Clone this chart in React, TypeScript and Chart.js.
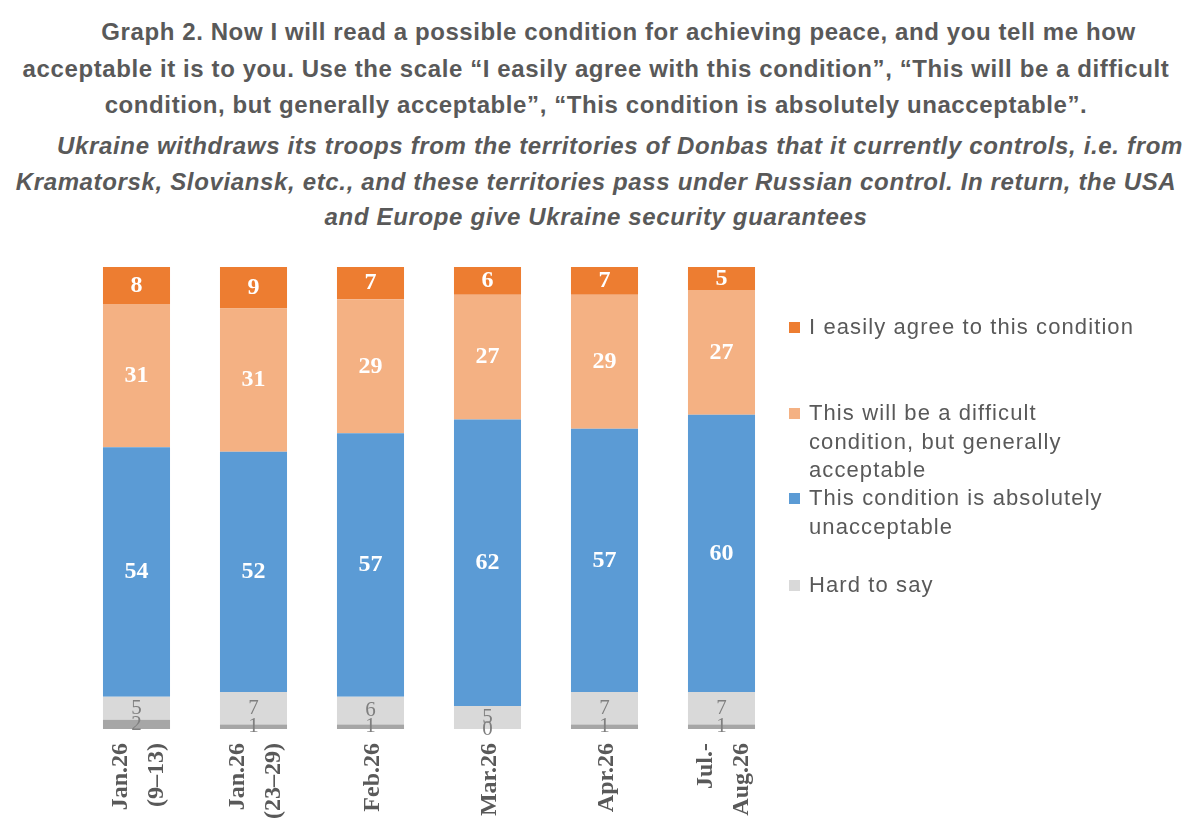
import React, { useEffect, useRef } from 'react';
import { Chart, registerables } from 'chart.js';
import type { Plugin } from 'chart.js';

Chart.register(...registerables);

const categories = [
  ['Jan.26', '(9–13)'],
  ['Jan.26', '(23–29)'],
  ['Feb.26'],
  ['Mar.26'],
  ['Apr.26'],
  ['Jul.-', 'Aug.26'],
];

const easilyAgree = [8, 9, 7, 6, 7, 5];
const difficultButAcceptable = [31, 31, 29, 27, 29, 27];
const absolutelyUnacceptable = [54, 52, 57, 62, 57, 60];
const hardToSay = [5, 7, 6, 5, 7, 7];
const noAnswer = [2, 1, 1, 0, 1, 1];

const legendItems = [
  { label: 'I easily agree to this condition', color: '#ED7D31' },
  { label: 'This will be a difficult\ncondition, but generally\nacceptable', color: '#F4B183' },
  { label: 'This condition is absolutely\nunacceptable', color: '#5B9BD5' },
  { label: 'Hard to say', color: '#D9D9D9' },
];
const legendTops = [313, 399, 484, 571];

const titleLines = [
  'Graph 2. Now I will read a possible condition for achieving peace, and you tell me how',
  'acceptable it is to you. Use the scale “I easily agree with this condition”, “This will be a difficult',
  'condition, but generally acceptable”, “This condition is absolutely unacceptable”.',
];
const subtitleLines = [
  'Ukraine withdraws its troops from the territories of Donbas that it currently controls, i.e. from',
  'Kramatorsk, Sloviansk, etc., and these territories pass under Russian control. In return, the USA',
  'and Europe give Ukraine security guarantees',
];

const TEXT_GREY = '#595959';

// values inside each stacked segment
const segmentLabels: Plugin<'bar'> = {
  id: 'segmentLabels',
  afterDatasetsDraw(chart) {
    const ctx = chart.ctx;
    chart.data.datasets.forEach((ds: any, i) => {
      const meta = chart.getDatasetMeta(i);
      meta.data.forEach((bar: any, j) => {
        const { x, y, base } = bar.getProps(['x', 'y', 'base'], true);
        const top = Math.max(y, chart.chartArea.top);
        ctx.save();
        ctx.font = ds.labelFont;
        ctx.fillStyle = ds.labelColor;
        ctx.textAlign = 'center';
        ctx.textBaseline = 'middle';
        ctx.fillText(String(ds.data[j]), x, (top + base) / 2);
        ctx.restore();
      });
    });
  },
};

// rotated, centred multi-line category labels
const categoryLabels: Plugin<'bar'> = {
  id: 'categoryLabels',
  afterDraw(chart) {
    const ctx = chart.ctx;
    const xScale = chart.scales.x;
    const lineGap = 36;
    categories.forEach((lines, i) => {
      const cx = xScale.getPixelForValue(i);
      lines.forEach((line, k) => {
        const off = (k - (lines.length - 1) / 2) * lineGap;
        ctx.save();
        ctx.translate(cx + off + 2, chart.chartArea.bottom + 14);
        ctx.rotate(-Math.PI / 2);
        ctx.font = 'bold 24px "Liberation Serif"';
        ctx.fillStyle = TEXT_GREY;
        ctx.textAlign = 'right';
        ctx.textBaseline = 'middle';
        ctx.fillText(line, 0, 0);
        ctx.restore();
      });
    });
  },
};

const StackedChart: React.FC = () => {
  const canvasRef = useRef<HTMLCanvasElement>(null);

  useEffect(() => {
    if (!canvasRef.current) return;
    const mainFont = 'bold 24px "Liberation Serif"';
    const smallFont = '21px "Liberation Serif"';

    const chart = new Chart(canvasRef.current, {
      type: 'bar',
      data: {
        labels: categories.map((c) => c.join(' ')),
        datasets: [
          { label: 'No answer', data: noAnswer, backgroundColor: '#A6A6A6', labelFont: smallFont, labelColor: '#7F7F7F' } as any,
          { label: 'Hard to say', data: hardToSay, backgroundColor: '#D9D9D9', labelFont: smallFont, labelColor: '#7F7F7F' } as any,
          { label: 'This condition is absolutely unacceptable', data: absolutelyUnacceptable, backgroundColor: '#5B9BD5', labelFont: mainFont, labelColor: '#FFFFFF' } as any,
          { label: 'This will be a difficult condition, but generally acceptable', data: difficultButAcceptable, backgroundColor: '#F4B183', labelFont: mainFont, labelColor: '#FFFFFF' } as any,
          { label: 'I easily agree to this condition', data: easilyAgree, backgroundColor: '#ED7D31', labelFont: mainFont, labelColor: '#FFFFFF' } as any,
        ].map((d) => ({ ...d, clip: 0, barPercentage: 0.573, categoryPercentage: 1, borderWidth: 0 })),
      },
      options: {
        responsive: true,
        maintainAspectRatio: false,
        animation: false,
        layout: { padding: { top: 27, left: 78, right: 10, bottom: 0 } },
        plugins: {
          legend: { display: false },
          tooltip: { enabled: false },
        },
        scales: {
          x: {
            stacked: true,
            grid: { display: false },
            border: { display: false },
            ticks: { display: false },
            afterFit: (scale: any) => {
              scale.height = 106;
            },
          },
          y: {
            stacked: true,
            display: false,
            min: 0,
            max: 100,
          },
        },
      },
      plugins: [segmentLabels, categoryLabels],
    });

    return () => {
      chart.destroy();
    };
  }, []);

  return (
    <div style={{ position: 'absolute', left: 0, top: 240, width: 790, height: 595 }}>
      <canvas ref={canvasRef} />
    </div>
  );
};

export default function App() {
  return (
    <div
      style={{
        position: 'absolute',
        left: 0,
        top: 0,
        width: 1200,
        height: 835,
        background: '#fff',
        fontFamily: '"Liberation Sans", Arial, sans-serif',
        color: TEXT_GREY,
        overflow: 'hidden',
      }}
    >
      <div style={{ position: 'absolute', top: 14, left: 0, width: 1192, textAlign: 'center', fontWeight: 'bold', fontSize: 24, letterSpacing: 0.6, lineHeight: '36.5px' }}>
        {titleLines.map((t, i) => (
          <div key={i} style={{ paddingLeft: i === 0 ? 45 : 0, whiteSpace: 'nowrap' }}>{t}</div>
        ))}
      </div>
      <div style={{ position: 'absolute', top: 128, left: 0, width: 1192, textAlign: 'center', fontWeight: 'bold', fontStyle: 'italic', fontSize: 24, letterSpacing: 0.65, lineHeight: '35.5px' }}>
        {subtitleLines.map((t, i) => (
          <div key={i} style={{ paddingLeft: i === 0 ? 48 : 0, whiteSpace: 'nowrap' }}>{t}</div>
        ))}
      </div>
      <StackedChart />
      {legendItems.map((item, i) => (
        <div key={i} style={{ position: 'absolute', left: 789, top: legendTops[i], fontSize: 22, letterSpacing: 1.1, lineHeight: '28.5px' }}>
          <span style={{ position: 'absolute', left: 0, top: 9, width: 11, height: 11, background: item.color }} />
          <div style={{ marginLeft: 20, whiteSpace: 'pre' }}>{item.label}</div>
        </div>
      ))}
    </div>
  );
}
